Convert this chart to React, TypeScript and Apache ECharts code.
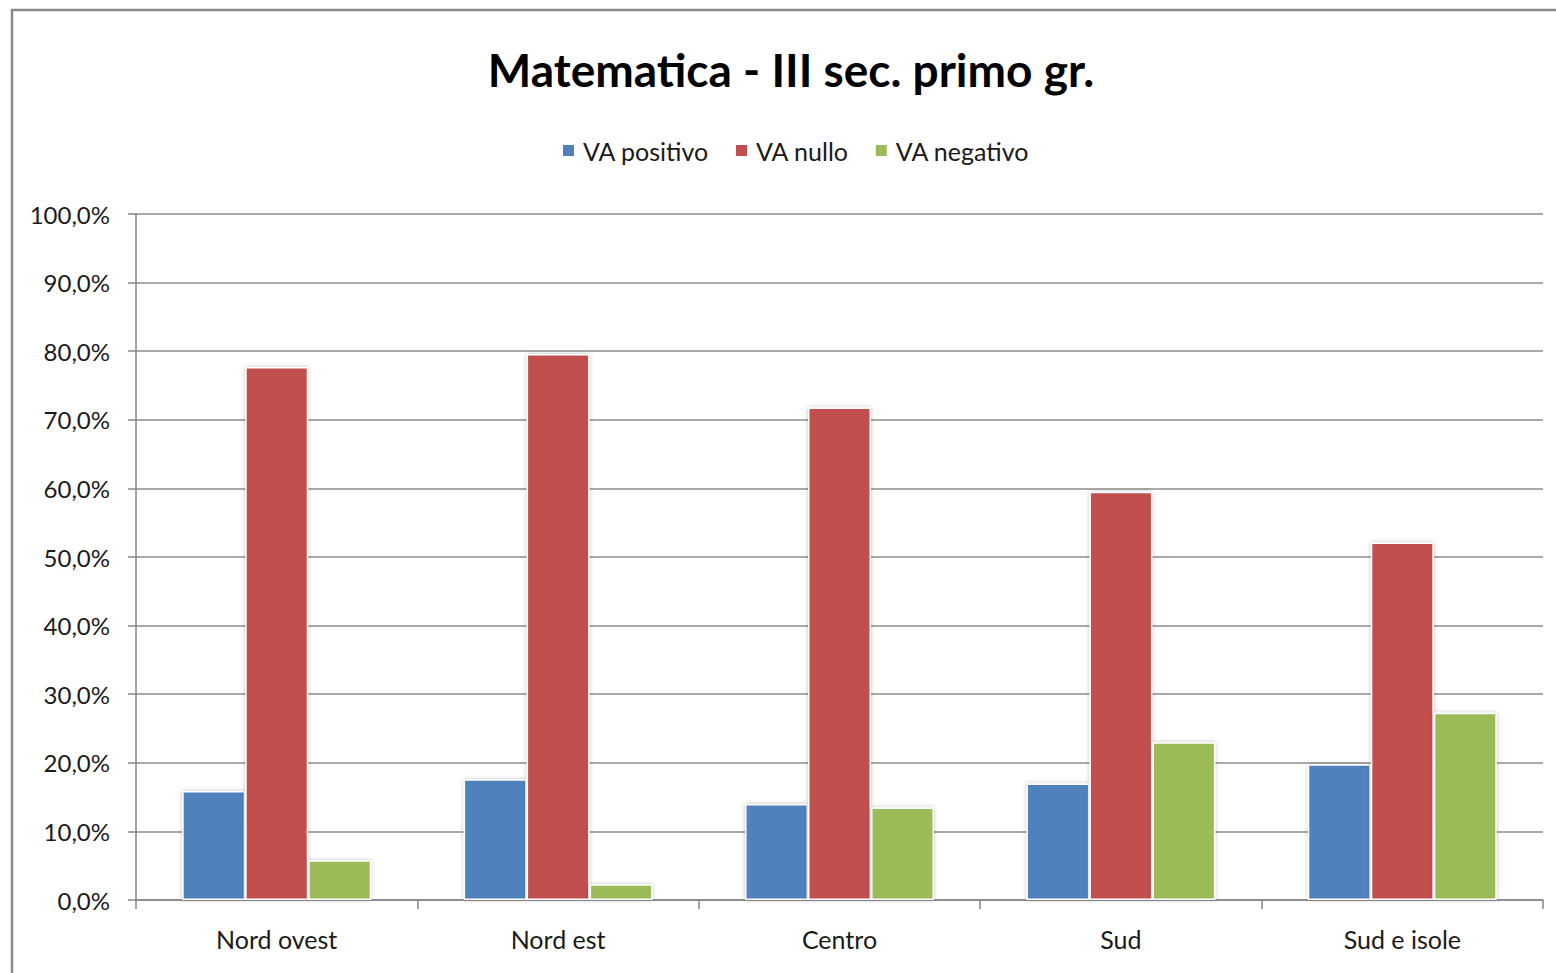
import React, { useEffect, useRef } from "react";
import * as echarts from "echarts";

const categories = ["Nord ovest", "Nord est", "Centro", "Sud", "Sud e isole"];
const vaPositivo = [15.9, 17.6, 14.0, 17.0, 19.8];
const vaNullo = [77.7, 79.6, 71.8, 59.5, 52.1];
const vaNegativo = [5.8, 2.3, 13.5, 23.0, 27.3];
const seriesNames = ["VA positivo", "VA nullo", "VA negativo"];
const seriesColors = ["#4f81bd", "#c0504d", "#9bbb59"];

const FONT = "Lato, 'Noto Sans', sans-serif";

export default function App() {
  const ref = useRef<HTMLDivElement>(null);
  useEffect(() => {
    document.body.style.margin = "0";
    if (!ref.current) return;
    const chart = echarts.init(ref.current, undefined, { renderer: "svg" });
    const dataSets = [vaPositivo, vaNullo, vaNegativo];
    const barStyle = (color: string) => ({
      color,
      borderColor: "#ffffff",
      borderWidth: 1.5,
      shadowBlur: 4,
      shadowColor: "rgba(0,0,0,0.25)",
      shadowOffsetX: 0,
      shadowOffsetY: 0,
    });
    chart.setOption({
      animation: false,
      backgroundColor: "#ffffff",
      graphic: [
        {
          type: "rect",
          shape: { x: 12, y: 10, width: 1600, height: 1000 },
          style: { fill: "none", stroke: "#8a8a8a", lineWidth: 2.5 },
          silent: true,
        },
      ],
      title: {
        text: "Matematica - III sec. primo gr.",
        left: 791,
        textAlign: "center",
        top: 46,
        padding: 0,
        textStyle: {
          fontFamily: FONT,
          fontWeight: "bold",
          fontSize: 46,
          color: "#000000",
        },
      },
      legend: {
        data: seriesNames,
        left: 561,
        top: 138,
        padding: 0,
        itemWidth: 13,
        itemHeight: 13,
        itemGap: 25,
        icon: "rect",
        textStyle: { fontFamily: FONT, fontSize: 25, color: "#1a1a1a", padding: [0, 0, 0, 3] },
      },
      grid: { left: 136, right: 13, top: 214, bottom: 73, containLabel: false },
      xAxis: {
        type: "category",
        data: categories,
        axisLine: { show: true, lineStyle: { color: "#868686", width: 1.5 } },
        axisTick: { show: true, alignWithLabel: false, length: 9, lineStyle: { color: "#868686", width: 1.5 } },
        axisLabel: { fontFamily: FONT, fontSize: 25, color: "#1a1a1a", margin: 26 },
        splitLine: { show: false },
      },
      yAxis: {
        type: "value",
        min: 0,
        max: 100,
        interval: 10,
        axisLine: { show: true, lineStyle: { color: "#868686", width: 1.5 } },
        axisTick: { show: true, length: 8, lineStyle: { color: "#868686", width: 1.5 } },
        axisLabel: {
          fontFamily: FONT,
          fontSize: 24,
          color: "#1a1a1a",
          margin: 26,
          formatter: (v: number) => v.toFixed(1).replace(".", ",") + "%",
        },
        splitLine: { show: true, lineStyle: { color: "#8c8c8c", width: 1.5 } },
      },
      series: seriesNames.map((name, i) => ({
        name,
        type: "bar",
        data: dataSets[i],
        barWidth: 63,
        barGap: "0%",
        itemStyle: barStyle(seriesColors[i]),
        emphasis: { disabled: true },
      })),
    });
    return () => chart.dispose();
  }, []);
  return <div ref={ref} style={{ width: 1556, height: 973 }} />;
}
